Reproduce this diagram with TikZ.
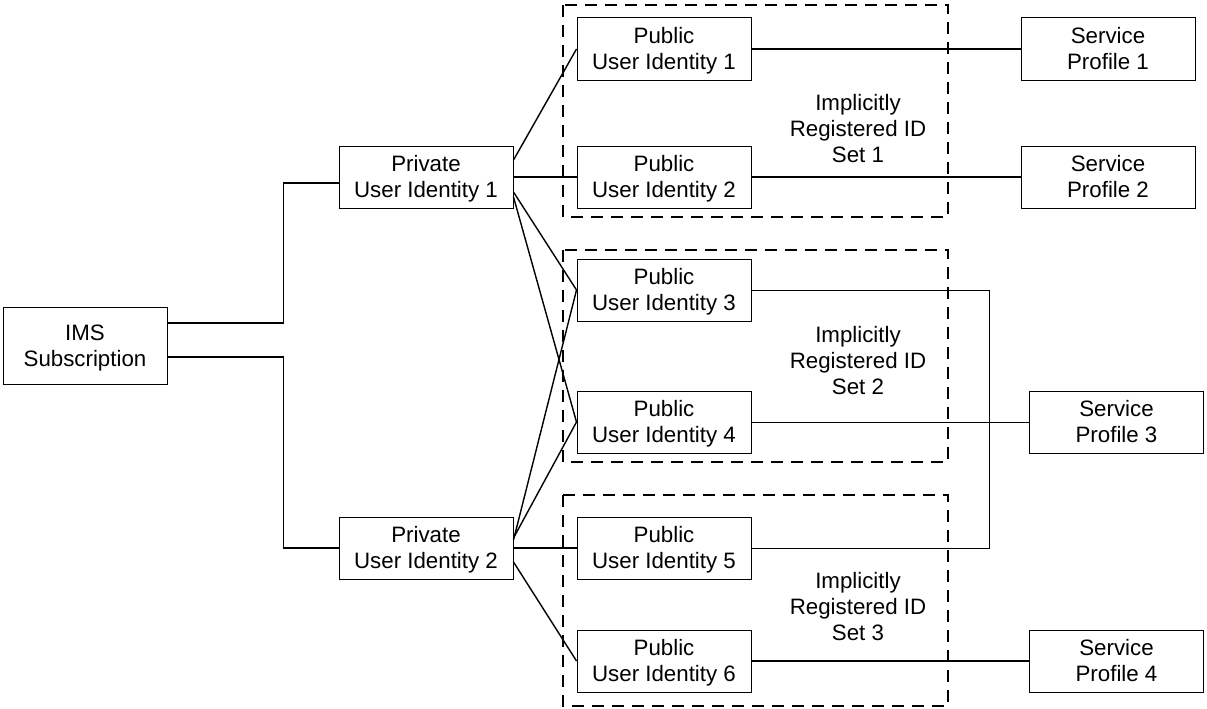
\documentclass[tikz,border=0pt]{standalone}
\usepackage{fontspec}
\setmainfont{Liberation Sans}
\usetikzlibrary{calc}

\begin{document}
\begin{tikzpicture}[x=1pt,y=-1pt,
    box/.style={draw,line width=1pt,minimum width=174pt,minimum height=62pt,inner sep=0pt,align=center,text height=46pt,text depth=5pt,font=\fontsize{22.3}{26}\selectfont},
    setbox/.style={draw,line width=1.8pt,dash pattern=on 12pt off 8pt},
    link/.style={line width=1.4pt},
    thinlink/.style={line width=1pt},
    lbl/.style={align=center,font=\fontsize{22.3}{26}\selectfont}]
                \useasboundingbox (0,0) rectangle (1207,709);

                \draw[setbox] (563,5) rectangle (948,217);
                \draw[setbox] (563,250) rectangle (948,462);
                \draw[setbox] (563,495) rectangle (948,706);
                \node[lbl] (set1) at (858,129) {Implicitly\\Registered ID\\Set 1};
                \node[lbl] (set2) at (858,361) {Implicitly\\Registered ID\\Set 2};
                \node[lbl] (set3) at (858,607) {Implicitly\\Registered ID\\Set 3};

                \node[box,minimum width=164pt,minimum height=77pt] (ims) at (85,345.5) {IMS\\Subscription};

                \node[box] (priv1) at (426,177) {Private\\User Identity 1};
                \node[box] (priv2) at (426,548) {Private\\User Identity 2};

                \node[box] (pub1) at (664,49) {Public\\User Identity 1};
                \node[box] (pub2) at (664,177) {Public\\User Identity 2};
                \node[box] (pub3) at (664,290) {Public\\User Identity 3};
                \node[box] (pub4) at (664,422) {Public\\User Identity 4};
                \node[box] (pub5) at (664,548) {Public\\User Identity 5};
                \node[box] (pub6) at (664,661) {Public\\User Identity 6};

                \node[box] (sp1) at (1108,49) {Service\\Profile 1};
                \node[box] (sp2) at (1108,177) {Service\\Profile 2};
                \node[box] (sp3) at (1116.5,422) {Service\\Profile 3};
                \node[box] (sp4) at (1116.5,661) {Service\\Profile 4};

                % subscription to private identities
                \draw[link] ([yshift=22.5pt]ims.east) -- ++(116,0) |- ([yshift=-6pt]priv1.west);
                \draw[link] ([yshift=-11.5pt]ims.east) -- ++(116,0) |- (priv2.west);

                % private to public identities
                \draw[link] ([yshift=17pt]priv1.east) -- (pub1.west);
                \draw[link] (priv1.east) -- (pub2.west);
                \draw[link] ([yshift=-15pt]priv1.east) -- (pub3.west);
                \draw[link] ([yshift=-20pt]priv1.east) -- (pub4.west);
                \draw[link] ([yshift=8pt]priv2.east) -- (pub3.west);
                \draw[link] ([yshift=10pt]priv2.east) -- (pub4.west);
                \draw[link] (priv2.east) -- (pub5.west);
                \draw[link] ([yshift=-14pt]priv2.east) -- (pub6.west);

                % public identities to service profiles
                \draw[link] (pub1.east) -- (sp1.west);
                \draw[link] (pub2.east) -- (sp2.west);
                \draw[thinlink] (pub3.east) -- ++(238,0) |- (pub5.east);
                \draw[thinlink] (pub4.east) -- (sp3.west);
                \draw[link] (pub6.east) -- (sp4.west);
            \end{tikzpicture}
\end{document}
